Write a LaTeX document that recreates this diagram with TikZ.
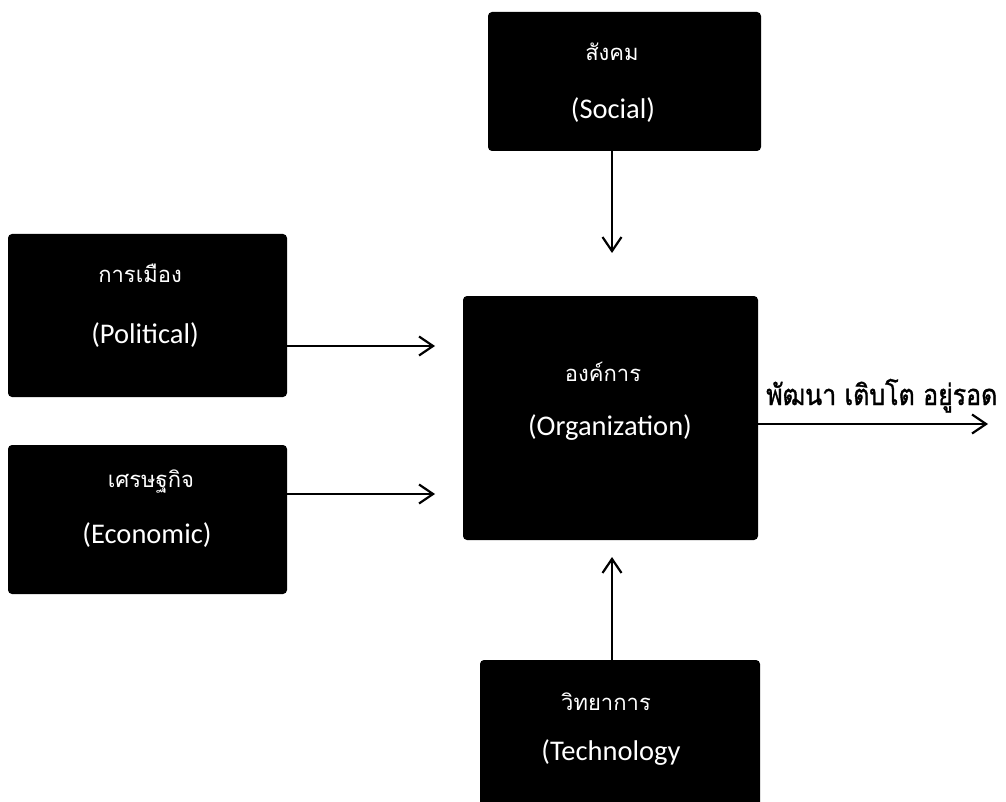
\documentclass[tikz,border=0pt]{standalone}
\usepackage{fontspec}
\setmainfont{Carlito}
\newfontfamily\thaifont[Script=Thai]{Loma}
\newfontfamily\thaicond[Script=Thai,FakeStretch=0.86,FakeBold=1.2]{Loma}
\usetikzlibrary{arrows.meta}
\tikzset{
  blackbox/.style={fill=black, rounded corners=4pt, inner sep=0pt},
  thaiw/.style={text=white, inner sep=0pt, font=\thaifont\fontsize{22}{26}\selectfont},
  engw/.style={text=white, inner sep=0pt, font=\fontsize{28.5}{34}\selectfont},
  conn/.style={line width=2.2pt, -{Straight Barb[length=14pt,width=19pt,line width=2.2pt]}},
}
\begin{document}
\begin{tikzpicture}[x=1pt,y=-1pt]
\path[use as bounding box] (0,0) rectangle (1006,802);
\clip (0,0) rectangle (1006,802);
% boxes
\node[blackbox, minimum width=273pt, minimum height=139pt] (soc) at (624.5,81.5) {};
\node[blackbox, minimum width=279pt, minimum height=163pt] (pol) at (147.5,315.5) {};
\node[blackbox, minimum width=279pt, minimum height=149pt] (eco) at (147.5,519.5) {};
\node[blackbox, minimum width=295pt, minimum height=244pt] (org) at (610.5,418) {};
\node[blackbox, minimum width=280pt, minimum height=180pt] (tec) at (620,750) {};
% texts
\node[thaiw] (socT) at (612,52) {สังคม};
\node[engw] (socE) at (613,110) {(Social)};
\node[thaiw] (polT) at (140,273) {การเมือง};
\node[engw] (polE) at (145,335) {(Political)};
\node[thaiw] (ecoT) at (151,482) {เศรษฐกิจ};
\node[engw] (ecoE) at (147,535) {(Economic)};
\node[thaiw] (orgT) at (603,372) {องค์การ};
\node[engw] (orgE) at (610,428) {(Organization)};
\node[thaiw] (tecT) at (606,702) {วิทยาการ};
\node[engw] (tecE) at (611,753) {(Technology};
% connector ends
\coordinate (socEnd) at (612,253);
\coordinate (polEnd) at (435,346);
\coordinate (ecoEnd) at (435,494);
\coordinate (tecEnd) at (612,557);
\coordinate (outEnd) at (988,424);
\draw[conn] (soc.south -| socEnd) -- (socEnd);
\draw[conn] (pol.east |- polEnd) -- (polEnd);
\draw[conn] (eco.east |- ecoEnd) -- (ecoEnd);
\draw[conn] (tec.north -| tecEnd) -- (tecEnd);
\draw[conn] (org.east |- outEnd) -- (outEnd);
\node[anchor=base west, inner sep=0pt, font=\thaicond\fontsize{29}{35}\selectfont] (outL) at (766,405) {พัฒนา เติบโต อยู่รอด};
\end{tikzpicture}
\end{document}
